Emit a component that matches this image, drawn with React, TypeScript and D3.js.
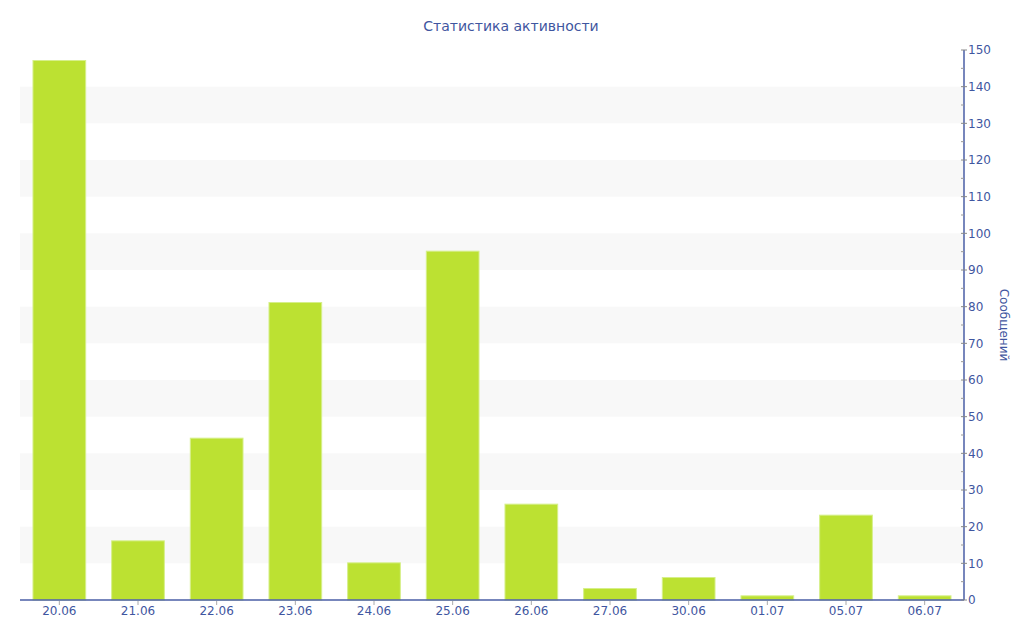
import { useEffect, useRef } from "react";
import * as d3 from "d3";

const days = [
  "20.06", "21.06", "22.06", "23.06", "24.06", "25.06",
  "26.06", "27.06", "30.06", "01.07", "05.07", "06.07",
];
const messages = [147, 16, 44, 81, 10, 95, 26, 3, 6, 1, 23, 1];
const yTicks = d3.range(0, 151, 10);

const chartTitle = "Статистика активности";
const yTitle = "Сообщений";

export default function App() {
  const svgRef = useRef<SVGSVGElement>(null);

  useEffect(() => {
    if (!svgRef.current) return;
    const W = 1024;
    const H = 640;
    const margin = { top: 50, right: 60, bottom: 40, left: 20 };
    const width = W - margin.left - margin.right;
    const height = H - margin.top - margin.bottom;
    const font = "'DejaVu Sans', Verdana, sans-serif";
    const blue = "#4a5ea6";
    const textBlue = "#3f56a0";

    const svg = d3.select(svgRef.current);
    svg.selectAll("*").remove();
    svg.attr("width", W).attr("height", H);

    svg.append("rect").attr("width", W).attr("height", H).attr("fill", "#fff");

    const g = svg
      .append("g")
      .attr("transform", `translate(${margin.left},${margin.top})`);

    const x = d3.scaleBand().domain(days).range([0, width]).paddingInner(0.33).paddingOuter(0.165);
    const y = d3.scaleLinear().domain([0, 150]).range([height, 0]);

    // Alternating bands
    g.append("g")
      .selectAll("rect")
      .data(yTicks.filter((t) => t % 20 === 10 && t < 150))
      .join("rect")
      .attr("x", 0)
      .attr("width", width)
      .attr("y", (d) => y(d + 10))
      .attr("height", (d) => y(d) - y(d + 10))
      .attr("fill", "#f8f8f8");

    // Bars
    g.append("g")
      .selectAll("rect")
      .data(messages)
      .join("rect")
      .attr("x", (_, i) => x(days[i])!)
      .attr("width", x.bandwidth())
      .attr("y", (d) => y(d) - 0.5)
      .attr("height", (d) => y(0) - y(d) + 0.5)
      .attr("fill", "#bce132")
      .attr("stroke", "#d6ef8a")
      .attr("stroke-width", 1);

    // X axis
    const xAxis = g.append("g").attr("transform", `translate(0,${height})`);
    xAxis
      .append("line")
      .attr("x1", 0)
      .attr("x2", width)
      .attr("stroke", blue)
      .attr("stroke-width", 1.5);
    xAxis
      .selectAll("line.tick")
      .data(days)
      .join("line")
      .attr("class", "tick")
      .attr("x1", (d) => x(d)! + x.bandwidth() / 2)
      .attr("x2", (d) => x(d)! + x.bandwidth() / 2)
      .attr("y1", 1)
      .attr("y2", 5)
      .attr("stroke", "#aaa");
    xAxis
      .selectAll("text")
      .data(days)
      .join("text")
      .attr("x", (d) => x(d)! + x.bandwidth() / 2)
      .attr("y", 15)
      .attr("text-anchor", "middle")
      .attr("font-family", font)
      .attr("font-size", 12)
      .attr("fill", textBlue)
      .text((d) => d);

    // Y axis on the right
    const yAxis = g.append("g").attr("transform", `translate(${width},0)`);
    yAxis
      .append("line")
      .attr("y1", 0)
      .attr("y2", height)
      .attr("stroke", blue)
      .attr("stroke-width", 1.5);
    yAxis
      .selectAll("line.minor")
      .data(yTicks.slice(0, -1).map((t) => t + 5))
      .join("line")
      .attr("class", "minor")
      .attr("x1", -3)
      .attr("x2", 0)
      .attr("y1", (d) => y(d))
      .attr("y2", (d) => y(d))
      .attr("stroke", "#999");
    yAxis
      .selectAll("line.major")
      .data(yTicks)
      .join("line")
      .attr("class", "major")
      .attr("x1", -3)
      .attr("x2", 3)
      .attr("y1", (d) => y(d))
      .attr("y2", (d) => y(d))
      .attr("stroke", "#888");
    yAxis
      .selectAll("text")
      .data(yTicks)
      .join("text")
      .attr("x", 4)
      .attr("y", (d) => y(d))
      .attr("dy", "0.35em")
      .attr("font-family", font)
      .attr("font-size", 12)
      .attr("fill", textBlue)
      .text((d) => d);

    svg
      .append("text")
      .attr("transform", `translate(1000,${margin.top + height / 2}) rotate(90)`)
      .attr("text-anchor", "middle")
      .attr("font-family", font)
      .attr("font-size", 12)
      .attr("fill", textBlue)
      .text(yTitle);

    svg
      .append("text")
      .attr("x", 511)
      .attr("y", 31)
      .attr("text-anchor", "middle")
      .attr("font-family", font)
      .attr("font-size", 14)
      .attr("fill", textBlue)
      .text(chartTitle);
  }, []);

  return (
    <div style={{ position: "absolute", left: 0, top: 0 }}>
      <svg ref={svgRef} />
    </div>
  );
}
